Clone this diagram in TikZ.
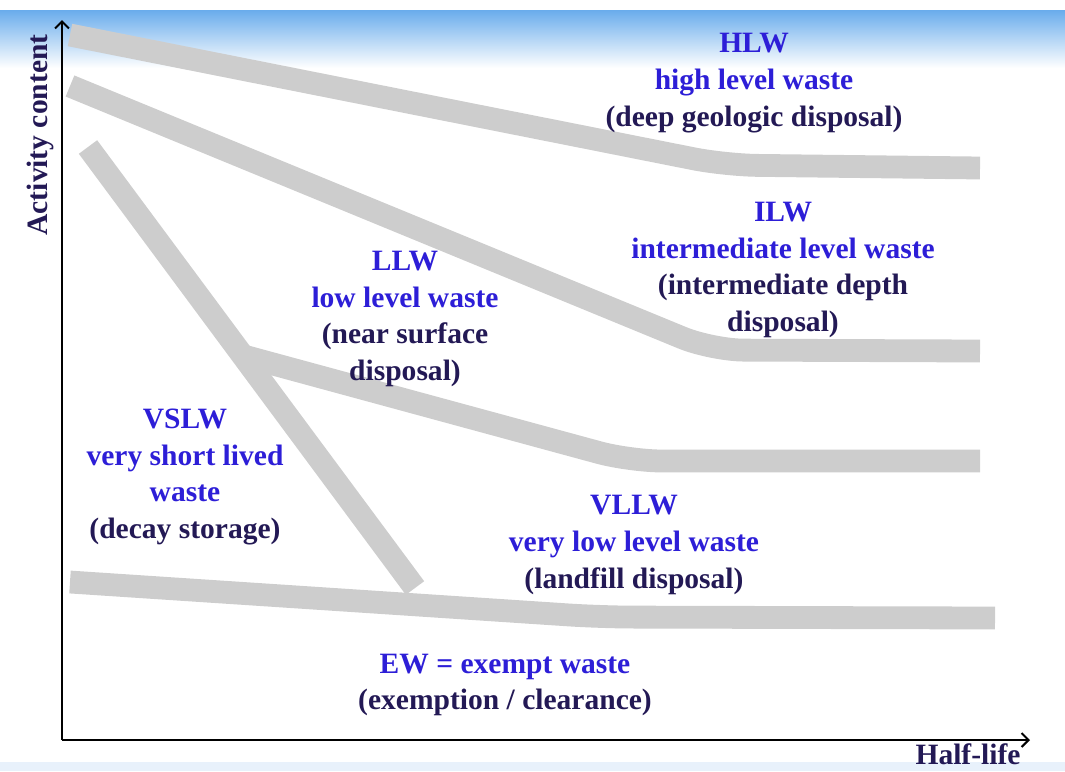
\documentclass[tikz,border=0pt]{standalone}
\usepackage{fontspec}
\setmainfont{Liberation Serif}
\usetikzlibrary{arrows.meta}
\definecolor{wasteblue}{RGB}{45,30,215}
\definecolor{wastenavy}{RGB}{35,25,85}
\definecolor{bandgray}{RGB}{205,205,205}
\definecolor{skyblue}{RGB}{105,172,236}
\definecolor{paleblue}{RGB}{232,241,251}
\newcommand{\wclass}[1]{\textcolor{wasteblue}{#1}}

\begin{document}
\begin{tikzpicture}[
x=0.025cm,
y=-0.025cm,
every node/.style={
align=center,
text=wastenavy,
font=\bfseries\fontsize{21}{26.2}\selectfont
},
band/.style={
draw=bandgray,
line width=0.57cm,
line join=round,
rounded corners=0.8cm
},
axis/.style={
-{Straight Barb[length=5pt,width=10pt]},
line width=1.4pt
}
]

\useasboundingbox (0,0) rectangle (1065,771);

% background
\shade[top color=skyblue, bottom color=white] (0,10) rectangle (1065,68);
\fill[paleblue] (0,762) rectangle (1065,771);

% bands
\draw[band] (70,35) -- (725,165) -- (980,168);
\draw[band] (70,86) -- (712,350) -- (980,351);
\draw[band] (240,355) -- (630,461) -- (980,461);
\draw[band] (88,147) -- (415,588);
\draw[band] (70,582) -- (600,617) -- (995,618);

% axes
\coordinate (o) at (62,740);
\coordinate (ytop) at (62,20);
\coordinate (xend) at (1030,740);
\draw[axis] (o) -- (ytop);
\draw[axis] (o) -- (xend);

\node[rotate=90] (act) at (40,135)
{Activity content};

\node[inner sep=0pt] (half) at (968,754)
{Half-life};

% classes
\node (hlw) at (754,83)
{\wclass{HLW}\\ \wclass{high level waste}\\ (deep geologic disposal)};

\node (ilw) at (783,270)
{\wclass{ILW}\\ \wclass{intermediate level waste}\\ (intermediate depth\\ disposal)};

\node (llw) at (405,319)
{\wclass{LLW}\\ \wclass{low level waste}\\ (near surface\\ disposal)};

\node (vslw) at (185,477)
{\wclass{VSLW}\\ \wclass{very short lived}\\ \wclass{waste}\\ (decay storage)};

\node (vllw) at (634,545)
{\wclass{VLLW}\\ \wclass{very low level waste}\\ (landfill disposal)};

\node (ew) at (505,685)
{\wclass{EW = exempt waste}\\ (exemption / clearance)};

\end{tikzpicture}
\end{document}
